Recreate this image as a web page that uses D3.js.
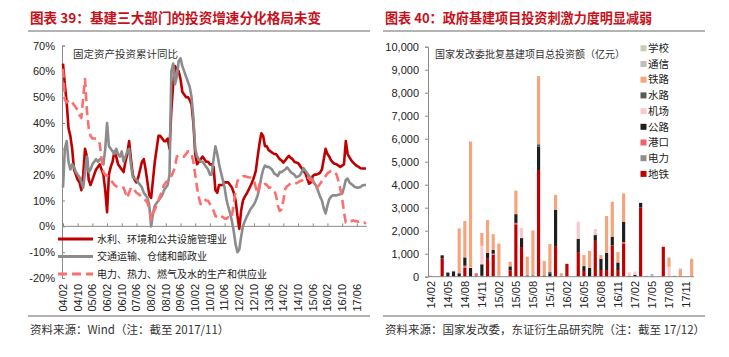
<!DOCTYPE html>
<html><head><meta charset="utf-8">
<script src="https://cdn.jsdelivr.net/npm/d3@7"></script>
<style>
html,body{margin:0;padding:0;background:#fff;}
svg{display:block;}
.num{font-family:"Liberation Sans",Arial,sans-serif;font-size:11px;fill:#222;}
.cjk{font-family:"Noto Sans CJK SC",sans-serif;}
</style></head>
<body>
<svg id="c" width="729" height="357"></svg>
<script>
// ---------- Left chart data (monthly, 2004/02 – 2017/11, cumulative YoY %) ----------
const leftTickLabels = ["04/02","04/10","05/06","06/02","06/10","07/06","08/02","08/10","09/06","10/02","10/10","11/06","12/02","12/10","13/06","14/02","14/10","15/06","16/02","16/10","17/06"];
const leftYTicks = [-20,-10,0,10,20,30,40,50,60,70];
const waterEnv = [
 63,55,48,38,35,30,22,20,18,17,14,
 20,30,27,18,16,18,20,22,23,24,22,20,
 14,5.5,20,23,25,29,27,24,23,22,21,25,
 28,33,26,20,18,17,19,22,25,26,22,17,
 12,11,18,25,30,35,35,34,33,33,34,30,
 45,55,62,61,60,57,52,51,50,50,49,47,
 40,28,24,25,26,27,26,25,25,24,24,23,
 14,13,16,16,16,17,17,17,16,15,13,10,
 4,-1,6,10,11.5,12.6,14,15.5,17,19,21.5,27,
 32,36,35,31,31,29.5,29,28.5,28,28,27,26,
 25.5,24.7,25.5,26.5,27.3,26.5,26,25,24.7,24.5,23.5,22.5,
 21.5,20.5,18.5,16.5,17,19.5,20,20,20.3,20.8,22,26,
 30,28,27,25.5,24.7,24.2,24,23.5,23,23.5,24,33,
 28,26.7,25.5,24.7,24,23.4,23,22.5,22.4,22.4,22.4];
const transport = [
 15,30,33,25,22,24,23,21,20,19,17,
 15,21,27,21,22,24,25,26,25,26,26,24,
 30,40,31,30,29,28,30,28,27,29,25,27,
 29,30,24,19,18.5,18,17,16,15,13,12,11,
 8,0,5,8,9,10,11,12,14,15,16,20,
 60,63,55,58,64,65,62,60,58,56,54,50,
 42,30,27,26,25,25,24,23,22,20,20,26,
 31,28,24,21,18,15,10.5,7.5,5,2,-2,-7,
 -10,-9,-4,0,2,3.6,5,6.5,7.5,8.5,10,12,
 15,19,22,23.5,23,23,22.5,21.8,20.5,20,19.5,21,
 21,21.5,22,22.8,22,21,20.5,20,19,19.3,19.7,21,
 22.5,21.5,20.5,19.5,18.5,18,16.5,15.5,13.5,11.5,10,7,
 5,8,10.5,11.5,12,12,12,12.2,12.4,12.6,15,18,
 18.5,17,16.4,15.8,15.2,15,15,15.2,15.8,16,16];
const power = [
 61,49,48,48.5,49,48,47,46,45,43,42,
 50,57,45,38,35,34,34,34,33.5,32,26,21,
 20,19.5,19,18,17,16,15.5,15,15,15,15,13,
 11,13,15,15,14,13,12.5,12,11.5,11,10,9,
 7,2.5,5,6.5,8,10,12,14,16,17,17.5,18.5,
 19.5,21,23,27,27.5,27.5,27,27,28,29,29,28,
 25,20,15,11,8.6,9.5,10.5,10,9.9,8.7,7.5,6,
 4,3.6,4.3,4,3.6,3,3,3.5,3,4,9,14,
 17.5,18.5,19,19.4,19.4,19.2,19,18.9,18.3,17.8,15,12.6,
 16.4,16,15.8,16.4,16,15,15,14.5,14,12,8,6,
 6.5,10,14.5,15.5,16,16.7,16.5,16.4,16.7,17,17.5,17.7,
 18.5,19,19,18.5,18,17.5,16,15,15.5,16.5,17.5,18.5,
 19.5,20.5,21,21.5,21.5,21,20,17.5,14.5,11,5.5,1.5,
 1.5,2,2,2.3,2,2,1.8,2,1.5,1.5,1];
const leftSeriesNames = ["水利、环境和公共设施管理业","交通运输、仓储和邮政业","电力、热力、燃气及水的生产和供应业"];

// ---------- Right chart data (monthly 14/02 – 17/12, 亿元) ----------
const rightCats = ["14/02","14/03","14/04","14/05","14/06","14/07","14/08","14/09","14/10","14/11","14/12",
 "15/01","15/02","15/03","15/04","15/05","15/06","15/07","15/08","15/09","15/10","15/11","15/12",
 "16/01","16/02","16/03","16/04","16/05","16/06","16/07","16/08","16/09","16/10","16/11","16/12",
 "17/01","17/02","17/03","17/04","17/05","17/06","17/07","17/08","17/09","17/10","17/11","17/12"];
const rightTickLabels = ["14/02","14/05","14/08","14/11","15/02","15/05","15/08","15/11","16/02","16/05","16/08","16/11","17/02","17/05","17/08","17/11"];
const rightYTicks = [0,1000,2000,3000,4000,5000,6000,7000,8000,9000,10000];
const metro    = [0,0,800,0,0,0,380,0,0,0,780, 950,0,0,280,2280,1290,0,0,4640,0,0,1330, 0,560,0,1070,250,0,1560,290,290,1360,290,1450, 0,0,3010,0,0,0,1300,0,0,0,0,0];
const powerB   = [0,0,0,0,0,0,0,0,0,40,0, 0,40,0,0,0,0,80,70,0,0,0,0, 0,0,0,0,0,0,0,0,0,0,0,0, 0,0,0,0,0,0,0,0,40,0,0,0];
const port     = [40,0,0,0,0,0,100,0,150,0,0, 50,0,0,0,60,0,0,0,0,0,0,0, 0,0,0,0,0,0,0,0,0,0,0,60, 0,0,0,0,0,0,0,0,0,0,0,0];
const highway  = [0,0,130,180,220,150,360,380,0,500,250, 160,0,0,170,380,390,0,0,1010,50,150,1570, 0,0,0,580,210,380,250,490,750,380,330,880, 40,80,200,0,0,0,0,0,0,0,0,0];
const airport  = [0,0,0,0,0,0,0,30,0,800,0, 0,0,0,0,0,440,0,0,0,0,0,0, 0,0,0,740,0,0,260,0,0,0,0,0, 150,140,0,0,0,0,60,430,0,0,0,0];
const waterway = [0,0,0,0,30,0,0,0,0,0,0, 0,0,0,0,0,0,0,0,110,0,70,0, 0,0,0,0,0,0,0,0,0,0,0,0, 0,0,0,0,0,0,0,0,0,0,0,0];
const railway  = [0,0,0,0,0,1950,1580,5470,0,560,1430, 690,1400,0,200,1020,0,790,1940,2960,630,1200,650, 120,0,0,0,480,740,0,160,1600,1520,450,1230, 0,0,0,0,0,0,0,400,0,300,0,780];
const telecom  = [0,30,0,0,0,0,0,0,0,0,0, 0,0,0,0,0,0,0,0,0,0,0,0, 40,0,0,0,0,0,0,0,0,0,0,0, 0,0,0,40,120,0,0,0,0,60,0,0];
const school   = [0,0,0,0,0,0,0,0,0,0,0, 0,0,0,0,0,0,0,0,0,0,0,0, 0,0,0,0,0,0,0,0,0,0,0,0, 0,0,0,0,0,0,0,0,0,0,0,0];
const rightKeys = ["地铁","电力","港口","公路","机场","水路","铁路","通信","学校"];
const rightColors = {"学校":"#C7CDB6","通信":"#BDBDBD","铁路":"#F5A47C","水路":"#5A5A5A","机场":"#F8C9CE","公路":"#1E1E1E","港口":"#F2616B","电力":"#8E8E8E","地铁":"#C00000"};

const svg = d3.select("#c");

// ---------- headers / footers ----------
function header(x0, x1, title, tx, fs, source) {
  svg.append("text").attr("class","cjk").attr("x",tx).attr("y",23).attr("font-size",fs)
    .attr("font-weight","bold").attr("fill","#C8101A").text(title);
  svg.append("line").attr("x1",x0).attr("x2",x1).attr("y1",31).attr("y2",31).attr("stroke","#9a9a9a").attr("stroke-width",1.6);
  svg.append("line").attr("x1",x0).attr("x2",x1).attr("y1",316).attr("y2",316).attr("stroke","#9a9a9a").attr("stroke-width",1.4);
  svg.append("text").attr("class","cjk").attr("x",tx).attr("y",334).attr("font-size",11.5).attr("fill","#333").text(source);
}
header(28, 370, "图表 39：基建三大部门的投资增速分化格局未变", 30, 13.6, "资料来源：Wind（注：截至 2017/11）");
header(383, 705, "图表 40：政府基建项目投资刺激力度明显减弱", 385, 13.1, "资料来源：国家发改委，东证衍生品研究院（注：截至 17/12）");

// ---------- Left chart ----------
const months = d3.timeMonths(new Date(2004,1,1), new Date(2017,11,1)).map(d3.timeFormat("%y/%m"));
const xL = d3.scalePoint().domain(months).range([63, 366]);
const yL = d3.scaleLinear().domain([-20,70]).range([278, 45.5]);
const gL = svg.append("g");

// y axis
const yAxL = d3.axisLeft(yL).tickValues(leftYTicks).tickSize(-3).tickPadding(7).tickFormat(d => d + "%");
const gyL = gL.append("g").attr("transform","translate(62,0)").call(yAxL);
gyL.select(".domain").attr("stroke","#8a8a8a");
gyL.selectAll(".tick line").attr("stroke","#8a8a8a");
gyL.selectAll("text").attr("class","num").attr("fill","#222");

// x axis at 0%
const xAxL = d3.axisBottom(xL).tickValues(leftTickLabels).tickSize(-3).tickFormat("");
const gxL = gL.append("g").attr("transform",`translate(0,${yL(0)})`).call(xAxL);
gxL.select(".domain").attr("stroke","#8a8a8a").attr("d",`M62,0H367`);
gxL.selectAll(".tick line").attr("stroke","#8a8a8a");
gL.selectAll(".xlblL").data(leftTickLabels).enter().append("text").attr("class","num")
  .attr("transform", d => `translate(${xL(d)},284) rotate(-90)`)
  .attr("text-anchor","end").attr("dy","0.35em").text(d => d);

// lines
const lineL = arr => d3.line().x((d,i) => xL(months[i])).y(d => yL(d))(arr);
const leftStyles = [
  {data: waterEnv, color:"#C00000", dash:null},
  {data: transport, color:"#8C8C8C", dash:null},
  {data: power, color:"#FF6E6E", dash:"9,5"}
];
leftStyles.forEach(s => {
  gL.append("path").attr("d", lineL(s.data)).attr("fill","none").attr("stroke", s.color)
    .attr("stroke-width",2.6).attr("stroke-linejoin","round").attr("stroke-dasharray", s.dash);
});
gL.append("text").attr("class","cjk").attr("x",73).attr("y",58).attr("font-size",10.5).attr("fill","#333").text("固定资产投资累计同比");

// legend
leftSeriesNames.forEach((n,i) => {
  const y = 239 + i*17.5;
  gL.append("line").attr("x1",58).attr("x2",93).attr("y1",y).attr("y2",y)
    .attr("stroke", leftStyles[i].color).attr("stroke-width",3).attr("stroke-dasharray", leftStyles[i].dash);
  gL.append("text").attr("class","cjk").attr("x",97).attr("y",y).attr("dy","0.35em")
    .attr("font-size",10).attr("fill","#222").text(n);
});

// ---------- Right chart ----------
const seriesData = {"地铁":metro,"电力":powerB,"港口":port,"公路":highway,"机场":airport,"水路":waterway,"铁路":railway,"通信":telecom,"学校":school};
const table = rightCats.map((c,i) => { const o = {cat:c}; rightKeys.forEach(k => o[k] = seriesData[k][i]); return o; });
const xR = d3.scaleBand().domain(rightCats).range([428, 694.5]).paddingInner(0.44).paddingOuter(0.22);
const yR = d3.scaleLinear().domain([0,10000]).range([276.7, 46.7]);
const gR = svg.append("g");

const yAxR = d3.axisLeft(yR).tickValues(rightYTicks).tickSize(3).tickPadding(6).tickFormat(d3.format(","));
const gyR = gR.append("g").attr("transform","translate(428,0)").call(yAxR);
gyR.select(".domain").attr("stroke","#8a8a8a");
gyR.selectAll(".tick line").attr("stroke","#8a8a8a");
gyR.selectAll("text").attr("class","num").attr("fill","#222");

const stacked = d3.stack().keys(rightKeys)(table);
gR.selectAll(".layer").data(stacked).enter().append("g").attr("fill", d => rightColors[d.key])
  .selectAll("rect").data(d => d).enter().append("rect")
  .attr("x", d => xR(d.data.cat)).attr("width", xR.bandwidth())
  .attr("y", d => yR(d[1])).attr("height", d => Math.max(0, yR(d[0]) - yR(d[1])));

const xAxR = d3.axisBottom(xR).tickValues(rightTickLabels).tickSize(0).tickFormat("");
const gxR = gR.append("g").attr("transform",`translate(0,${yR(0)})`).call(xAxR);
gxR.select(".domain").attr("stroke","#8a8a8a").attr("d","M428,0H694");
gR.selectAll(".xlblR").data(rightTickLabels).enter().append("text").attr("class","num")
  .attr("transform", d => `translate(${xR(d) + xR.bandwidth()/2},281) rotate(-90)`)
  .attr("text-anchor","end").attr("dy","0.35em").text(d => d);

gR.append("text").attr("class","cjk").attr("x",435).attr("y",58).attr("font-size",10).attr("fill","#333").text("国家发改委批复基建项目总投资额（亿元）");

// legend (top-to-bottom)
rightKeys.slice().reverse().forEach((k,i) => {
  const y = 48.3 + i*15.7;
  gR.append("rect").attr("x",640.5).attr("y",y-3).attr("width",6).attr("height",6).attr("fill", rightColors[k]);
  gR.append("text").attr("class","cjk").attr("x",648).attr("y",y).attr("dy","0.36em")
    .attr("font-size",10.5).attr("fill","#222").text(k);
});
</script>
</body></html>
